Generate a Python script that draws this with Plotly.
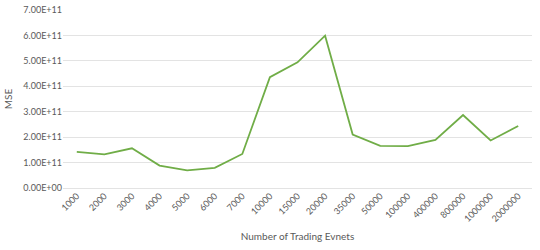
import plotly.graph_objects as go

categories = ["1000", "2000", "3000", "4000", "5000", "6000", "7000", "10000", "15000",
              "20000", "35000", "50000", "100000", "400000", "800000", "1000000", "2000000"]
mse = [1.42e11, 1.32e11, 1.56e11, 0.88e11, 0.69e11, 0.79e11, 1.34e11, 4.36e11, 4.94e11,
       5.99e11, 2.10e11, 1.66e11, 1.65e11, 1.89e11, 2.87e11, 1.87e11, 2.44e11]
y_tickvals = [0, 1e11, 2e11, 3e11, 4e11, 5e11, 6e11, 7e11]
y_ticktext = ["0.00E+00", "1.00E+11", "2.00E+11", "3.00E+11", "4.00E+11",
              "5.00E+11", "6.00E+11", "7.00E+11"]

font_family = "Lato, 'Open Sans', sans-serif"
grey = "#595959"

fig = go.Figure(go.Scatter(
    x=categories, y=mse, mode="lines",
    line=dict(color="#70ad47", width=1.8),
))

fig.update_layout(
    width=540, height=250,
    margin=dict(l=63, r=8, t=10, b=62),
    paper_bgcolor="white", plot_bgcolor="white",
    showlegend=False,
    font=dict(family=font_family, size=9, color=grey),
    xaxis=dict(
        type="category", tickangle=-45, showgrid=False, showline=False,
        range=[-0.5, len(categories) - 0.5], automargin=False,
        ticks="", tickfont=dict(size=9, color=grey),
        title=dict(text="Number of Trading Evnets", font=dict(size=10, color=grey), standoff=10),
    ),
    yaxis=dict(
        range=[0, 7e11], tickvals=y_tickvals, ticktext=y_ticktext, automargin=False,
        showgrid=True, gridcolor="#e3e3e3", gridwidth=1,
        zeroline=True, zerolinecolor="#e3e3e3", zerolinewidth=1,
        showline=False, ticks="", tickfont=dict(size=9, color=grey),
        title=dict(text="MSE", font=dict(size=10, color=grey), standoff=8),
    ),
)

fig.write_html("out.html", config={"displayModeBar": False},
               post_script="document.body.style.margin='0px';")
